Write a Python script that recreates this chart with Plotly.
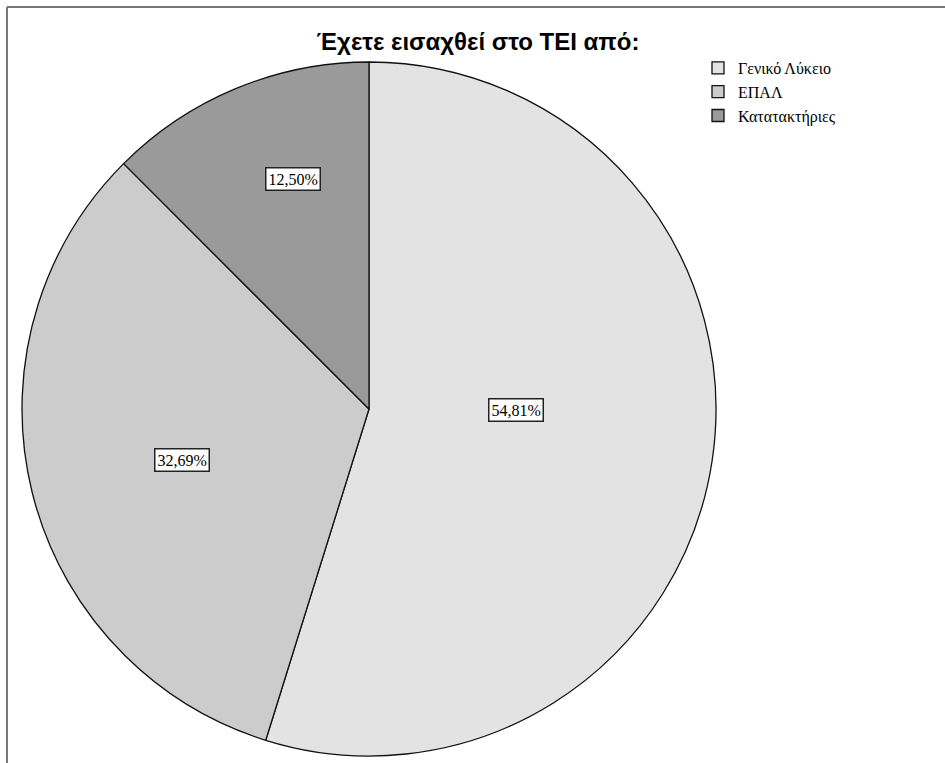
import math
import plotly.graph_objects as go

categories = ["Γενικό Λύκειο", "ΕΠΑΛ", "Κατατακτήριες"]
percentages = [54.81, 32.69, 12.50]
label_texts = ["54,81%", "32,69%", "12,50%"]
colors = ["#e3e3e3", "#cccccc", "#9a9a9a"]
# where each boxed label sits: fraction along the slice's arc, fraction of radius
label_arc_frac = [0.459, 0.488, 0.593]
label_radius_frac = [0.424, 0.559, 0.697]

W, H = 945, 763
cx, cy, R = 369, 409, 347  # pixel geometry of the pie

dom_x = [(cx - R) / W, (cx + R) / W]
dom_y = [(H - cy - R) / H, (H - cy + R) / H]

fig = go.Figure()
fig.add_trace(go.Pie(
    labels=categories,
    values=percentages,
    sort=False,
    direction="clockwise",
    rotation=0,
    marker=dict(colors=colors, line=dict(color="#111111", width=1.3)),
    textinfo="none",
    hoverinfo="label+percent",
    domain=dict(x=dom_x, y=dom_y),
))

# Boxed percentage labels placed inside the slices
total = sum(percentages)
cum = 0.0
annotations = []
for val, txt, af, rf in zip(percentages, label_texts, label_arc_frac, label_radius_frac):
    ang = (cum + val * af) / total * 2 * math.pi
    cum += val
    px = cx + rf * R * math.sin(ang)
    py = cy - rf * R * math.cos(ang)
    annotations.append(dict(
        x=px / W, y=1 - py / H, xref="paper", yref="paper",
        xanchor="center", yanchor="middle",
        text=txt, showarrow=False,
        font=dict(family="Liberation Serif", size=16, color="#000000"),
        bgcolor="#ffffff", bordercolor="#222222", borderwidth=1.5, borderpad=2,
    ))

fig.update_layout(
    width=W, height=H,
    margin=dict(l=0, r=0, t=0, b=0),
    paper_bgcolor="#ffffff",
    title=dict(
        text="<b>Έχετε εισαχθεί στο ΤΕΙ από:</b>",
        x=478 / W, xanchor="center", y=1 - 42 / H, yanchor="middle",
        font=dict(family="Liberation Sans Narrow, Liberation Sans, Arial", size=24, color="#000000"),
    ),
    legend=dict(
        x=698 / W, y=1 - 51 / H, xanchor="left", yanchor="top",
        font=dict(family="Liberation Serif", size=16, color="#000000"),
        itemwidth=30, bgcolor="rgba(0,0,0,0)", tracegroupgap=0,
    ),
    annotations=annotations,
    shapes=[
        dict(type="line", xref="paper", yref="paper", x0=7 / W, x1=1, y0=1 - 7 / H, y1=1 - 7 / H,
             line=dict(color="#777777", width=2)),
        dict(type="line", xref="paper", yref="paper", x0=7 / W, x1=7 / W, y0=0, y1=1 - 7 / H,
             line=dict(color="#777777", width=2)),
    ],
)

fig.write_html("out.html")
